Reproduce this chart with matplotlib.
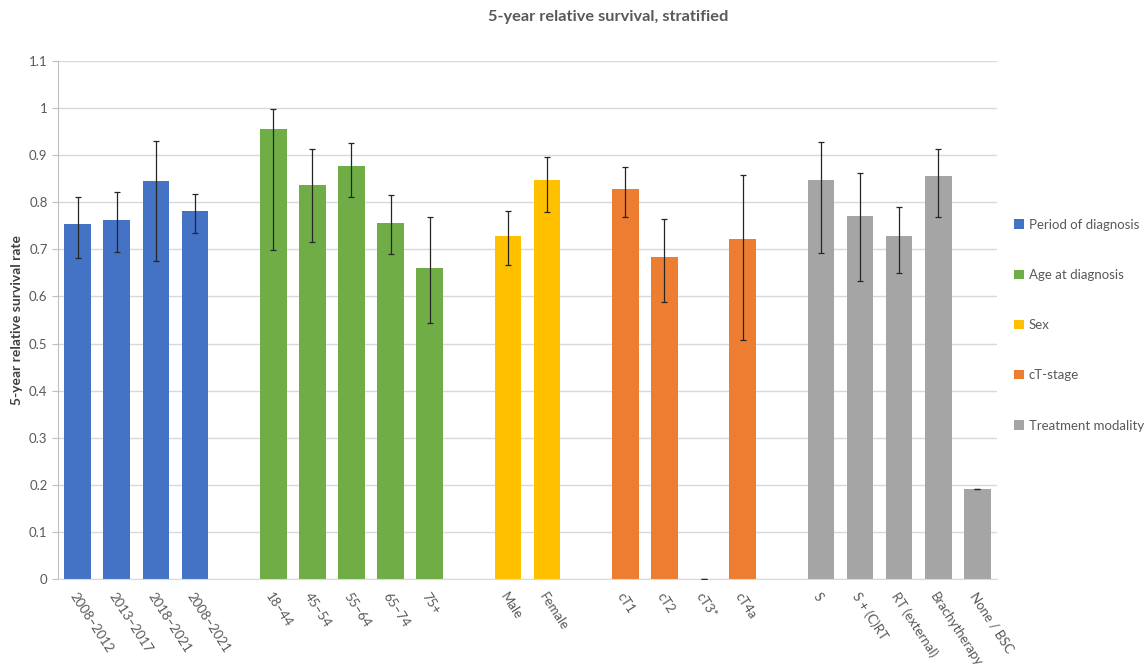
import matplotlib
matplotlib.use('Agg')
import matplotlib.pyplot as plt
from matplotlib.patches import Patch

plt.rcParams['font.family'] = ['Lato', 'DejaVu Sans']

# группы и их подписи
groups = ['Period of diagnosis', 'Age at diagnosis', 'Sex', 'cT-stage', 'Treatment modality']
colors = ['#4472C4', '#70AD47', '#FFC000', '#ED7D31', '#A5A5A5']

labels = [
    ['2008–2012', '2013–2017', '2018–2021', '2008–2021'],
    ['18–44', '45–54', '55–64', '65–74', '75+'],
    ['Male', 'Female'],
    ['cT1', 'cT2', 'cT3*', 'cT4a'],
    ['S', 'S + (C)RT', 'RT (external)', 'Brachytherapy', 'None / BSC'],
]
survival = [
    [0.754, 0.763, 0.845, 0.781],
    [0.956, 0.837, 0.877, 0.756, 0.660],
    [0.728, 0.848],
    [0.828, 0.684, 0.0, 0.721],
    [0.848, 0.771, 0.728, 0.856, 0.191],
]
ci_low = [
    [0.681, 0.694, 0.676, 0.735],
    [0.699, 0.715, 0.811, 0.691, 0.544],
    [0.666, 0.780],
    [0.768, 0.589, 0.0, 0.507],
    [0.693, 0.632, 0.650, 0.768, 0.190],
]
ci_high = [
    [0.811, 0.821, 0.930, 0.818],
    [0.998, 0.914, 0.926, 0.815, 0.769],
    [0.782, 0.896],
    [0.874, 0.765, 0.0, 0.857],
    [0.929, 0.863, 0.791, 0.913, 0.192],
]

fig = plt.figure(figsize=(11.47, 6.67), dpi=100)
ax = fig.add_axes([0.0506, 0.132, 0.8186, 0.7765])

text_color = '#595959'
pos = 0
ticks, ticklabels = [], []
for g in range(len(groups)):
    xs = list(range(pos, pos + len(labels[g])))
    vals = survival[g]
    err = [[v - lo for v, lo in zip(vals, ci_low[g])],
           [hi - v for v, hi in zip(vals, ci_high[g])]]
    ax.bar(xs, vals, width=0.68, color=colors[g], zorder=2)
    ax.errorbar(xs, vals, yerr=err, fmt='none', ecolor='#262626',
                elinewidth=0.9, capsize=2.5, capthick=0.9, zorder=3)
    ticks += xs
    ticklabels += labels[g]
    pos += len(labels[g]) + 1  # пустой слот между группами

ax.set_xlim(-0.5, pos - 1.5)
ax.set_ylim(0, 1.1)
ax.set_yticks([i / 10 for i in range(12)])
ax.set_yticklabels(['0', '0.1', '0.2', '0.3', '0.4', '0.5', '0.6', '0.7',
                    '0.8', '0.9', '1', '1.1'])
ax.set_xticks(ticks)
ax.set_xticklabels(ticklabels, rotation=-57, ha='left', va='top',
                   rotation_mode='anchor')

ax.grid(True, axis='y', color='#D9D9D9', linewidth=1, zorder=0)
for side in ['top', 'right']:
    ax.spines[side].set_visible(False)
ax.spines['left'].set_color('#BFBFBF')
ax.spines['bottom'].set_color('#D9D9D9')
ax.tick_params(axis='y', colors=text_color, labelsize=9.5, length=4, color='#BFBFBF')
ax.tick_params(axis='x', colors=text_color, labelsize=9.5, length=0, pad=8)

ax.set_ylabel('5-year relative survival rate', fontsize=10, fontweight='bold',
              color='#404040', labelpad=4)
fig.suptitle('5-year relative survival, stratified', x=0.53, y=0.985,
             fontsize=11.8, fontweight='bold', color=text_color)

handles = [Patch(facecolor=c, label=g) for g, c in zip(groups, colors)]
ax.legend(handles=handles, loc='center left', bbox_to_anchor=(1.006, 0.49),
          frameon=False, fontsize=9.5, labelcolor=text_color,
          handlelength=0.7, handleheight=0.7, handletextpad=0.4,
          labelspacing=2.9)

fig.savefig('out.png', dpi=100)
